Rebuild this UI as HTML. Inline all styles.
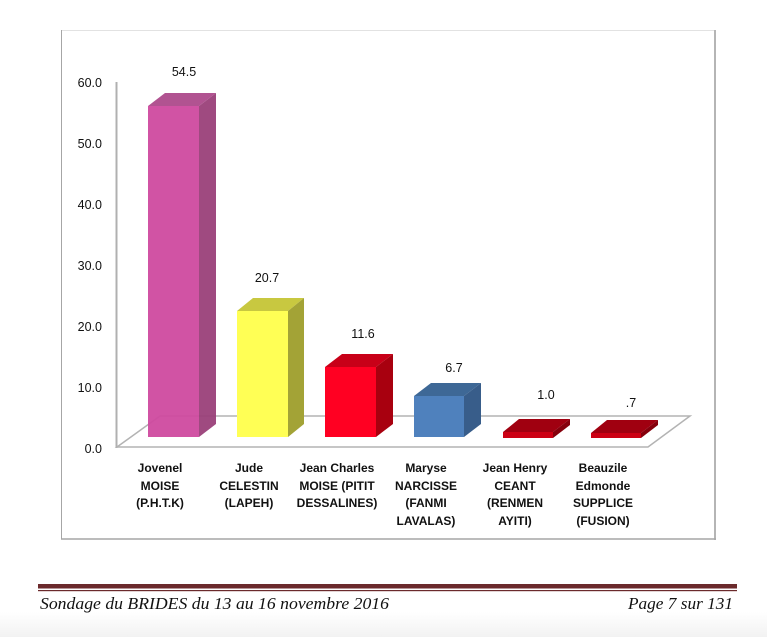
<!DOCTYPE html>
<html><head><meta charset="utf-8"><style>
html,body{margin:0;padding:0;background:#fff;}
svg{display:block;}
.sans{font-family:"Liberation Sans",Arial,sans-serif;}
</style></head><body>
<svg width="767" height="637" viewBox="0 0 767 637" xmlns="http://www.w3.org/2000/svg">
<defs>
<linearGradient id="bg" x1="0" y1="0" x2="0" y2="1">
<stop offset="0" stop-color="#ffffff"/><stop offset="1" stop-color="#f2f2f2"/>
</linearGradient>
</defs>
<rect x="0" y="0" width="767" height="637" fill="#fff"/>
<rect x="0" y="612" width="767" height="25" fill="url(#bg)"/>
<!-- chart frame -->
<line x1="61" y1="30.5" x2="715" y2="30.5" stroke="#e2e2e2" stroke-width="1"/>
<line x1="61.5" y1="30" x2="61.5" y2="539" stroke="#a6a6a6" stroke-width="1"/>
<line x1="715" y1="30" x2="715" y2="540" stroke="#b5b5b5" stroke-width="2"/>
<line x1="61" y1="539" x2="716" y2="539" stroke="#a6a6a6" stroke-width="1.5"/>
<!-- floor -->
<polygon points="117,447 160,416 690,416 648,447" fill="#fff" stroke="#b3b3b3" stroke-width="1.5"/>
<!-- y axis -->
<line x1="116.5" y1="82" x2="116.5" y2="448" stroke="#b0b0b0" stroke-width="2"/>
<g class="sans" font-size="12.5" fill="#111" text-anchor="end">
<text x="102" y="87">60.0</text>
<text x="102" y="148">50.0</text>
<text x="102" y="209">40.0</text>
<text x="102" y="270">30.0</text>
<text x="102" y="331">20.0</text>
<text x="102" y="392">10.0</text>
<text x="102" y="453">0.0</text>
</g>
<!-- bar 1 pink -->
<g opacity="0.95">
<polygon points="148,106 165,93 216,93 199,106" fill="#ad4a8c"/>
<polygon points="199,106 216,93 216,424 199,437" fill="#9a417a"/>
<rect x="148" y="106" width="51" height="331" fill="#cf4aa0"/>
</g>
<!-- bar 2 yellow -->
<polygon points="237,311 253,298 304,298 288,311" fill="#c8c840"/>
<polygon points="288,311 304,298 304,424 288,437" fill="#a3a336"/>
<rect x="237" y="311" width="51" height="126" fill="#ffff55"/>
<!-- bar 3 red -->
<polygon points="325,367 342,354 393,354 376,367" fill="#c80018"/>
<polygon points="376,367 393,354 393,424 376,437" fill="#a8000f"/>
<rect x="325" y="367" width="51" height="70" fill="#ff0022"/>
<!-- bar 4 blue -->
<polygon points="414,396 431,383 481,383 464,396" fill="#3e6896"/>
<polygon points="464,396 481,383 481,424 464,437" fill="#385d8a"/>
<rect x="414" y="396" width="50" height="41" fill="#4f81bd"/>
<!-- bar 5 -->
<polygon points="503,432 519,419 570,419 553,432" fill="#a00010"/>
<polygon points="553,432 570,419 570,425 553,438" fill="#85000c"/>
<rect x="503" y="432" width="50" height="6" fill="#cc0014"/>
<!-- bar 6 -->
<polygon points="591,433 607,420 658,420 641,433" fill="#a00010"/>
<polygon points="641,433 658,420 658,425 641,438" fill="#85000c"/>
<rect x="591" y="433" width="50" height="5" fill="#cc0014"/>
<!-- value labels -->
<g class="sans" font-size="12.5" fill="#111" text-anchor="middle">
<text x="184" y="76">54.5</text>
<text x="267" y="282">20.7</text>
<text x="363" y="338">11.6</text>
<text x="454" y="372">6.7</text>
<text x="546" y="399">1.0</text>
<text x="631" y="407">.7</text>
</g>
<!-- category labels -->
<g class="sans" font-size="12" font-weight="bold" fill="#111" text-anchor="middle">
<text x="160" y="472">Jovenel</text><text x="160" y="490">MOISE</text><text x="160" y="507">(P.H.T.K)</text>
<text x="249" y="472">Jude</text><text x="249" y="490">CELESTIN</text><text x="249" y="507">(LAPEH)</text>
<text x="337" y="472">Jean Charles</text><text x="337" y="490">MOISE (PITIT</text><text x="337" y="507">DESSALINES)</text>
<text x="426" y="472">Maryse</text><text x="426" y="490">NARCISSE</text><text x="426" y="507">(FANMI</text><text x="426" y="525">LAVALAS)</text>
<text x="515" y="472">Jean Henry</text><text x="515" y="490">CEANT</text><text x="515" y="507">(RENMEN</text><text x="515" y="525">AYITI)</text>
<text x="603" y="472">Beauzile</text><text x="603" y="490">Edmonde</text><text x="603" y="507">SUPPLICE</text><text x="603" y="525">(FUSION)</text>
</g>
<!-- footer -->
<rect x="38" y="584" width="699" height="4.5" fill="#6b2a2c"/>
<rect x="38" y="590" width="699" height="1.2" fill="#6b2a2c"/>
<g style="font-family:'Liberation Serif',serif;font-style:italic;font-size:17px;" fill="#111">
<text x="40" y="609" textLength="349" lengthAdjust="spacingAndGlyphs">Sondage du BRIDES du 13 au 16 novembre 2016</text>
<text x="628" y="609" textLength="105" lengthAdjust="spacingAndGlyphs">Page 7 sur 131</text>
</g>
</svg>
</body></html>
